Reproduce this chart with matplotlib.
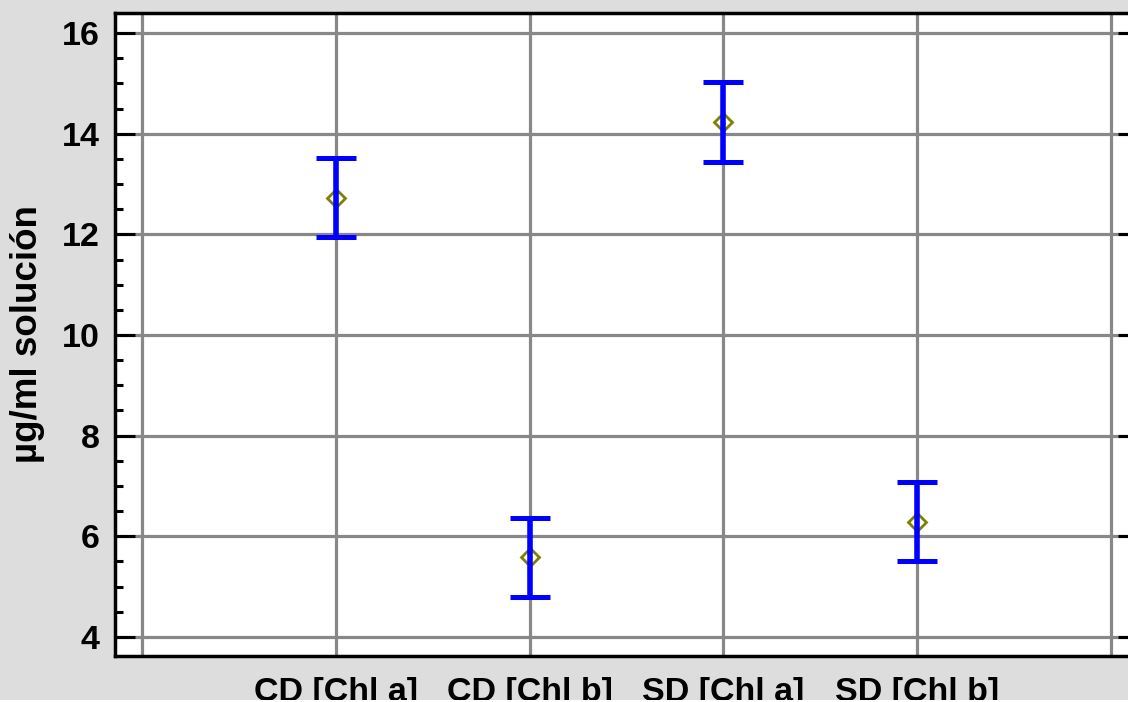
import matplotlib
matplotlib.use("Agg")
import matplotlib.pyplot as plt
from matplotlib.ticker import MultipleLocator, FixedLocator

# dati
categorie = ["CD [Chl a]", "CD [Chl b]", "SD [Chl a]", "SD [Chl b]"]
medie = [12.73, 5.58, 14.23, 6.29]
semi_intervallo = [0.79, 0.79, 0.79, 0.79]
y_ticks = [4, 6, 8, 10, 12, 14, 16]

plt.rcParams["font.family"] = ["Liberation Sans", "DejaVu Sans"]
plt.rcParams["font.weight"] = "bold"

fig = plt.figure(figsize=(11.28, 7.02), dpi=100, facecolor="#dddddd")
ax = fig.add_axes([115 / 1128, 46 / 702, 1023 / 1128, 643 / 702])
ax.set_facecolor("white")

pos = list(range(1, len(categorie) + 1))

ax.plot(pos, medie, linestyle="none", marker="D", markersize=9.5,
        markerfacecolor="none", markeredgecolor="#808000", markeredgewidth=2.0, zorder=3)
ax.errorbar(pos, medie, yerr=semi_intervallo, fmt="none", ecolor="#0000ff",
            elinewidth=4, capsize=14.5, capthick=3.6, zorder=4)

ax.set_xlim(-0.14, 5.14)
ax.set_ylim(3.62, 16.4)

ax.xaxis.set_major_locator(FixedLocator(range(0, 6)))
ax.set_xticklabels([""] + categorie + [""])
ax.yaxis.set_major_locator(FixedLocator(y_ticks))
ax.yaxis.set_minor_locator(MultipleLocator(0.5))

ax.grid(True, which="major", color="#888888", linewidth=2.3, zorder=1)
ax.set_axisbelow(True)

ax.tick_params(axis="x", length=0, pad=15, labelsize=24.5)
ax.tick_params(axis="y", which="major", direction="in", length=14.5, width=2.2,
               right=True, pad=11, labelsize=24.5)
ax.tick_params(axis="y", which="minor", direction="in", length=6, width=2.2, right=True)
for lab in ax.get_xticklabels() + ax.get_yticklabels():
    lab.set_fontweight("bold")

for s in ax.spines.values():
    s.set_linewidth(2.5)
    s.set_color("black")

ax.set_ylabel("µg/ml solución", fontsize=26.5, fontweight="bold", labelpad=12)

# striscia bianca in fondo, come nell'immagine originale
fig.patches.append(plt.Rectangle((0, 0), 1, 2 / 702, transform=fig.transFigure,
                                 facecolor="white", edgecolor="none", zorder=10))

fig.savefig("out.png", dpi=100, facecolor=fig.get_facecolor())
